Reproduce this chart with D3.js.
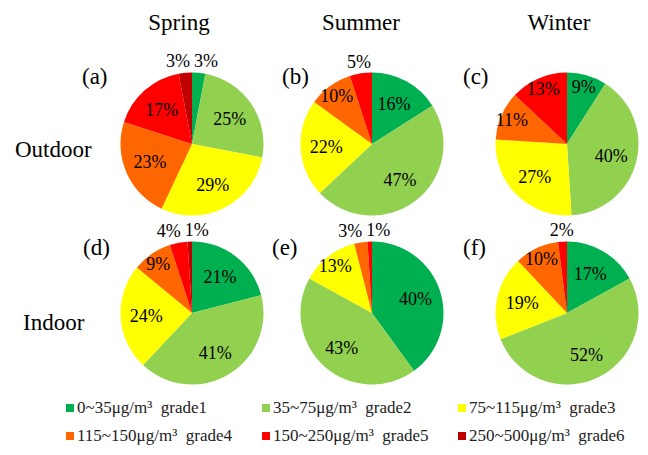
<!DOCTYPE html>
<html>
<head>
<meta charset="utf-8">
<script src="https://cdn.jsdelivr.net/npm/d3@7"></script>
<style>
  html, body { margin: 0; padding: 0; background: #fff; }
</style>
</head>
<body>
<svg id="chart" width="648" height="455"></svg>
<script>
// PM2.5 concentration grades
const gradeNames = ["grade1", "grade2", "grade3", "grade4", "grade5", "grade6"];
const gradeRanges = ["0~35μg/m³", "35~75μg/m³", "75~115μg/m³", "115~150μg/m³", "150~250μg/m³", "250~500μg/m³"];

const seasons = ["Spring", "Summer", "Winter"];
const sites = ["Outdoor", "Indoor"];
const panelTags = ["(a)", "(b)", "(c)", "(d)", "(e)", "(f)"];

// share (%) of each grade, grade1 → grade6
const outdoorSpring = [3, 25, 29, 23, 17, 3];
const outdoorSummer = [16, 47, 22, 10, 5, 0];
const outdoorWinter = [9, 40, 27, 11, 13, 0];
const indoorSpring  = [21, 41, 24, 9, 4, 1];
const indoorSummer  = [40, 43, 13, 3, 1, 0];
const indoorWinter  = [17, 52, 19, 10, 2, 0];

const gradeColors = ["#00B050", "#92D050", "#FFFF00", "#FF6600", "#FF0000", "#C00000"];

const panelData = [outdoorSpring, outdoorSummer, outdoorWinter, indoorSpring, indoorSummer, indoorWinter];

const FONT = "'Liberation Serif', 'Times New Roman', serif";

const svg = d3.select("#chart")
  .style("font-family", FONT);

// layout
const radius = 71.5;
const colCenters = [192, 372, 567];
const rowCenters = [144, 313];
const titleX = [179, 361, 559];
const tagX = [[82, 282, 463], [83, 272, 463]];
const tagY = [84, 255];

const color = d3.scaleOrdinal().domain(gradeNames).range(gradeColors);
const pie = d3.pie().sort(null).value(d => d.value).startAngle(0).endAngle(2 * Math.PI);
const arc = d3.arc().innerRadius(0).outerRadius(radius);

// season titles
svg.selectAll("text.season")
  .data(seasons)
  .join("text")
  .attr("class", "season")
  .attr("x", (d, i) => titleX[i])
  .attr("y", 30)
  .attr("text-anchor", "middle")
  .style("font-family", FONT)
  .style("font-size", "23px")
  .text(d => d);

// row labels
svg.selectAll("text.site")
  .data(sites)
  .join("text")
  .attr("class", "site")
  .attr("x", (d, i) => i === 0 ? 15 : 23)
  .attr("y", (d, i) => i === 0 ? 157 : 330)
  .style("font-family", FONT)
  .style("font-size", "23px")
  .text(d => d);

function labelPoint(d) {
  const share = d.data.value;
  const mid = (d.startAngle + d.endAngle) / 2;
  let k;
  if (share <= 5) k = 1.17;
  else if (share <= 13) k = 0.84;
  else k = 0.64;
  return [Math.sin(mid) * radius * k, -Math.cos(mid) * radius * k];
}

panelData.forEach((values, idx) => {
  const row = Math.floor(idx / 3), col = idx % 3;
  const g = svg.append("g")
    .attr("transform", `translate(${colCenters[col]},${rowCenters[row]})`);

  const slices = pie(values.map((v, i) => ({ grade: gradeNames[i], value: v })));

  g.selectAll("path")
    .data(slices.filter(d => d.data.value > 0))
    .join("path")
    .attr("d", arc)
    .attr("fill", d => color(d.data.grade));

  // percentage labels; thin slices get theirs outside the rim
  const labels = slices.filter(d => d.data.value > 0).map(d => {
    const p = labelPoint(d);
    return { text: d.data.value + "%", x: p[0], y: p[1], outside: d.data.value <= 5 };
  });
  const outer = labels.filter(l => l.outside).sort((a, b) => a.x - b.x);
  const minGap = 28;
  for (let pass = 0; pass < 4; pass++) {
    for (let i = 1; i < outer.length; i++) {
      const gap = outer[i].x - outer[i - 1].x;
      if (gap < minGap) {
        const push = (minGap - gap) / 2;
        outer[i - 1].x -= push;
        outer[i].x += push;
      }
    }
  }

  g.selectAll("text.pct")
    .data(labels)
    .join("text")
    .attr("class", "pct")
    .attr("x", d => d.x)
    .attr("y", d => d.y)
    .attr("dy", "0.35em")
    .attr("text-anchor", "middle")
    .style("font-family", FONT)
    .style("font-size", "18px")
    .text(d => d.text);

  svg.append("text")
    .attr("x", tagX[row][col])
    .attr("y", tagY[row])
    .style("font-family", FONT)
    .style("font-size", "23px")
    .text(panelTags[idx]);
});

// legend
const legendCols = [66, 262, 458];
const legendRows = [408, 436];
const legend = svg.selectAll("g.legend")
  .data(gradeNames)
  .join("g")
  .attr("class", "legend")
  .attr("transform", (d, i) => `translate(${legendCols[i % 3]},${legendRows[Math.floor(i / 3)]})`);

legend.append("rect")
  .attr("x", 0)
  .attr("y", -4)
  .attr("width", 8)
  .attr("height", 8)
  .attr("fill", d => color(d));

legend.append("text")
  .attr("x", 11)
  .attr("y", 5)
  .style("font-family", FONT)
  .style("font-size", "17px")
  .style("fill", "#222")
  .attr("xml:space", "preserve")
  .text((d, i) => gradeRanges[i] + "  " + d);
</script>
</body>
</html>
